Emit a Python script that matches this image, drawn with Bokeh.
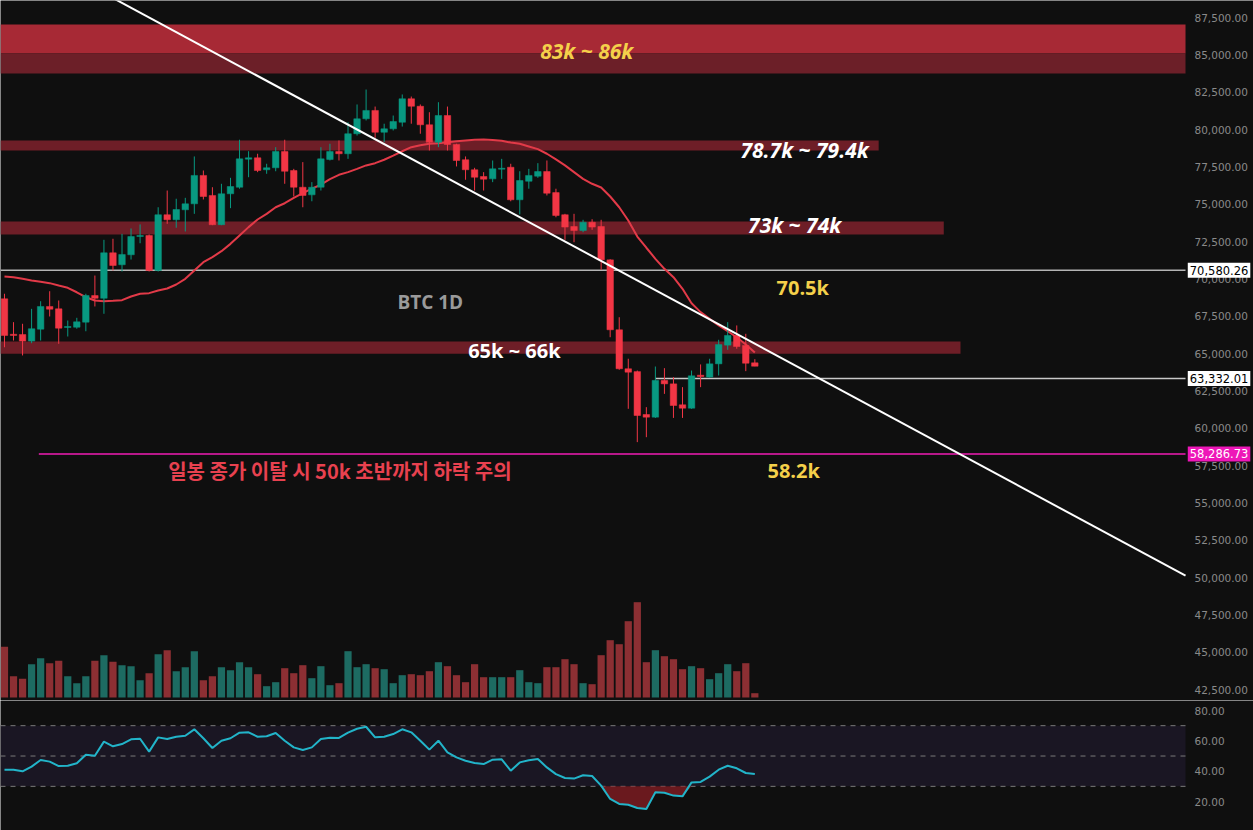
import numpy as np
from bokeh.plotting import figure
from bokeh.models import Range1d, FixedTicker, NumeralTickFormatter, Label, BoxAnnotation
from bokeh.layouts import column
from bokeh.core.properties import value
from bokeh.embed import file_html
from bokeh.resources import INLINE

# ---------------- data ----------------
opens = [68670, 66300, 66280, 65840, 66640, 68160, 68000, 66750, 66770, 67110,
         68890, 68710, 71750, 70950, 71620, 72840, 72910, 70570, 74300, 73960,
         74630, 75030, 76930, 75590, 73630, 75700, 76140, 78020, 78110, 77310,
         77440, 78530, 77260, 76140, 75630, 76140, 78000, 78530, 78380, 79720,
         80720, 81280, 79820, 80050, 80490, 82060, 81560, 80320, 79150, 80940,
         79000, 77980, 77310, 76860, 76700, 77350, 77480, 75300, 76540, 76880,
         77190, 75780, 74300, 73510, 73240, 73800, 73510, 71280, 66600, 63990,
         63800, 60930, 60750, 63210, 62980, 61580, 61350, 63560, 63430, 64320,
         65570, 66220, 65550, 64390]
highs = [69010, 67110, 67000, 68000, 68510, 69180, 68560, 67220, 67400, 69010,
         70230, 72620, 72690, 73020, 73380, 73650, 72980, 74800, 75920, 75370,
         75430, 78200, 77260, 76140, 76370, 76770, 79320, 78550, 78380, 77710,
         78820, 79320, 77370, 77820, 76480, 78820, 79050, 79270, 80490, 81680,
         82680, 81540, 80390, 80940, 82350, 82210, 81680, 81160, 81830, 81540,
         79050, 78200, 77440, 77150, 77930, 78040, 77710, 77210, 77370, 77750,
         77930, 76040, 74360, 74360, 73960, 74000, 73960, 71320, 67440, 64660,
         63870, 61420, 64140, 64030, 63430, 62760, 63870, 64280, 64660, 65930,
         67110, 66890, 66330, 64630]
lows = [65430, 65880, 64880, 65700, 65880, 67490, 65660, 66150, 66670, 66500,
        68160, 67670, 70570, 70500, 71300, 72390, 70500, 70500, 73690, 73430,
        73180, 74360, 75320, 73600, 73600, 74740, 76040, 76810, 77150, 77040,
        77210, 76370, 75520, 74800, 75200, 75920, 77930, 77930, 78040, 79600,
        80610, 79450, 79150, 79940, 80200, 80390, 79720, 78600, 78820, 78600,
        77530, 76640, 75920, 75920, 76480, 76700, 75200, 74320, 76040, 76770,
        75590, 74130, 72620, 72460, 73130, 73290, 70610, 66100, 63920, 61310,
        59080, 59410, 60700, 62310, 60700, 60700, 61310, 62760, 63390, 63540,
        65260, 65330, 63830, 64160]
closes = [66220, 66220, 65840, 66670, 68160, 67980, 66710, 66820, 67130, 68890,
          68710, 71750, 70900, 71640, 72840, 72910, 70570, 74300, 73960, 74650,
          75030, 76930, 75520, 73630, 75700, 76190, 78040, 78110, 77260, 77440,
          78530, 77210, 76140, 75590, 76140, 78040, 78530, 78380, 79720, 80720,
          81280, 79820, 80050, 80540, 82060, 81560, 80320, 79150, 80940, 79000,
          77930, 77310, 76810, 76680, 77370, 77410, 75300, 76590, 76930, 77190,
          75740, 74250, 73470, 73240, 73800, 73470, 71280, 66600, 63990, 63760,
          60860, 60750, 63210, 62980, 61530, 61350, 63520, 63470, 64320, 65610,
          66220, 65480, 64360, 64160]
volumes = [50.7, 21.3, 18.7, 33.3, 39.3, 34.3, 36.7, 21.3, 14.3, 21.3,
           36.7, 42.3, 35.7, 32.3, 31.3, 17.3, 24.3, 43.3, 47.3, 26.3,
           30.3, 46.3, 17.3, 21.3, 30.3, 27.3, 35.3, 30.3, 23.3, 11.3,
           15.3, 29.3, 24.3, 32.3, 19.3, 31.3, 12.3, 14.3, 46.3, 30.3,
           33.3, 29.3, 28.3, 14.3, 22.3, 23.3, 22.3, 26.3, 35.3, 31.3,
           22.3, 15.3, 33.3, 20.3, 20.3, 20.3, 20.3, 27.3, 15.3, 14.3,
           30.3, 30.3, 38.3, 33.3, 14.3, 13.3, 42.3, 57.3, 53.3, 76.3,
           95.3, 35.3, 47.3, 41.3, 38.3, 28.3, 31.3, 29.3, 18.3, 24.3,
           33.3, 26.3, 34.3, 4.3]
ma = [70170, 70120, 70010, 69900, 69810, 69720, 69560, 69410, 69110, 68780,
      68560, 68510, 68540, 68580, 68830, 69010, 69050, 69230, 69360, 69630,
      70010, 70570, 71120, 71460, 71860, 72350, 72910, 73470, 73980, 74360,
      74800, 75070, 75430, 75740, 76040, 76320, 76680, 76970, 77150, 77370,
      77600, 77750, 77980, 78260, 78550, 78820, 78950, 79050, 79090, 79150,
      79220, 79270, 79320, 79340, 79300, 79250, 79130, 79050, 78870, 78690,
      78380, 78000, 77600, 77150, 76700, 76370, 76120, 75520, 74800, 73910,
      72840, 72090, 71350, 70680, 70120, 69340, 68380, 67780, 67330, 66890,
      66500, 66100, 65610, 65080]
rsi = [41.0, 41.0, 39.9, 43.0, 47.4, 46.3, 43.4, 43.6, 45.2, 50.9,
       50.2, 59.5, 56.4, 57.9, 61.0, 61.4, 52.9, 62.3, 61.2, 62.7,
       63.4, 67.6, 61.7, 55.3, 60.1, 61.7, 65.4, 65.6, 62.7, 63.0,
       65.2, 60.1, 55.7, 54.0, 55.7, 61.2, 62.1, 61.9, 65.4, 68.0,
       69.3, 62.3, 62.7, 64.5, 67.6, 65.6, 60.1, 54.2, 60.1, 52.4,
       49.1, 46.9, 45.4, 44.7, 47.6, 47.8, 40.3, 45.8, 47.2, 48.0,
       42.5, 38.1, 35.5, 35.1, 37.3, 36.8, 30.5, 21.7, 18.4, 17.9,
       15.7, 15.1, 26.1, 25.8, 23.9, 23.4, 32.6, 32.9, 36.4, 41.0,
       43.6, 41.9, 38.8, 38.1]

# resistance / support zones (price bands)
zone_bottom = [85090, 83750, 78600, 72980, 64990]
zone_top = [87030, 85090, 79270, 73850, 65820]
zone_end = [130.64, 130.64, 96.7, 103.9, 105.75]
zone_colors = ["#a72935", "#6c1f28", "#6e1e27", "#6e1e27", "#6e1e27"]

level_main = 70580.26
level_support = 63332.01
level_break = 58286.73
trend_x = [10, 130.64]
trend_y = [89455, 50140]

price_ticks = list(range(42500, 87501, 2500))
rsi_ticks = [0, 20, 40, 60, 80]
rsi_levels = [70, 50, 30]

X0, X_EDGE, X1 = -0.44, 130.64, 138.16   # chart start, price-scale edge, canvas edge

BG = "#0f0f0f"
UP = "#089981"
DOWN = "#f23645"
idx = np.arange(len(opens))
o = np.array(opens); c = np.array(closes)
up = c >= o
candle_colors = [UP if u else DOWN for u in up]
vol_colors = ["#1d6b62" if u else "#8c2f33" for u in up]


def style_axis(a, ticks, fmt):
    a.ticker = FixedTicker(ticks=ticks)
    a.formatter = NumeralTickFormatter(format=fmt)
    a.major_label_text_color = "#8a8a8a"
    a.major_label_text_font = "DejaVu Sans"
    a.major_label_text_font_size = "10.5px"
    a.axis_line_color = None
    a.major_tick_line_color = None
    a.minor_tick_line_color = None
    a.major_tick_out = 0
    a.major_tick_in = 0
    a.major_label_standoff = -59


# ---------------- price pane ----------------
p = figure(frame_width=1253, frame_height=700, x_range=Range1d(X0, X1),
           y_range=Range1d(41787, 88638), y_axis_location="right", x_axis_location=None,
           output_backend="svg", toolbar_location=None, background_fill_color=BG,
           border_fill_color=BG, outline_line_color=None,
           min_border_left=0, min_border_top=0, min_border_bottom=0, min_border_right=0)
p.grid.visible = False
p.extra_y_ranges = {"vol": Range1d(-3, 697)}
style_axis(p.yaxis[0], price_ticks, "0,0.00")

# zones
p.quad(left=X0, right=zone_end, bottom=zone_bottom, top=zone_top,
       fill_color=zone_colors, line_color=None)

# volume
p.vbar(x=idx, top=volumes, bottom=0, width=0.8, fill_color=vol_colors, line_color=None,
       y_range_name="vol")

# level lines
p.segment(x0=X0, x1=X_EDGE, y0=level_main, y1=level_main, line_color="#b4b4b4", line_width=1.5)
p.segment(x0=72, x1=X_EDGE, y0=level_support, y1=level_support, line_color="#c8c8c8", line_width=1.5)
p.segment(x0=3.8, x1=X_EDGE, y0=level_break, y1=level_break, line_color="#f01cb4", line_width=1.6)

# MA
p.line(idx, ma, line_color="#e23a48", line_width=2)

# candles
p.segment(x0=idx, x1=idx, y0=lows, y1=highs, line_color=candle_colors, line_width=1)
p.vbar(x=idx, width=0.72, top=np.maximum(o, c), bottom=np.minimum(o, c),
       fill_color=candle_colors, line_color=candle_colors, line_width=0.5)

# trend line
p.line(trend_x, trend_y, line_color="white", line_width=2)

# texts
def txt(x, y, s, color, size, style, font="Open Sans"):
    p.text(x=[x], y=[y], text=[s], text_color=color, text_font=value(font),
           text_font_size=size, text_font_style=style, text_align="center",
           text_baseline="middle")

YEL = "#f4d04a"
txt(64.4, 85290, "83k ~ 86k", YEL, "21px", "bold italic")
txt(88.5, 78660, "78.7k ~ 79.4k", "white", "21px", "bold italic")
txt(87.4, 73580, "73k ~ 74k", "white", "21px", "bold italic")
txt(88.3, 69430, "70.5k", YEL, "20px", "bold")
txt(47.1, 68490, "BTC 1D", "#9a9a9a", "19px", "bold")
txt(56.4, 65210, "65k ~ 66k", "white", "20px", "bold")
txt(87.3, 57180, "58.2k", YEL, "20px", "bold")
txt(37.1, 57180, "일봉 종가 이탈 시 50k 초반까지 하락 주의", "#e8414f", "20px", "bold",
    font="Noto Sans CJK KR")

# price tags on the price scale
for lvl, bg, fg in [(level_main, "white", "black"), (level_support, "white", "black"),
                    (level_break, "#ee17b8", "white")]:
    p.add_layout(Label(x=X_EDGE + 0.25, y=lvl, text=f"{lvl:,.2f}",
                       text_align="left", text_baseline="middle", text_color=fg,
                       text_font="DejaVu Sans", text_font_size="11.5px",
                       background_fill_color=bg, padding=(2, 3), level="overlay"))

# ---------------- RSI pane ----------------
r = figure(frame_width=1253, frame_height=130, x_range=p.x_range,
           y_range=Range1d(0.9, 86.6), y_axis_location="right", x_axis_location=None,
           output_backend="svg", toolbar_location=None, background_fill_color=BG,
           border_fill_color=BG, outline_line_color=None,
           min_border_left=0, min_border_top=0, min_border_bottom=0, min_border_right=0)
r.grid.visible = False
style_axis(r.yaxis[0], rsi_ticks, "0.00")

r.add_layout(BoxAnnotation(left=X0, right=X_EDGE, bottom=30, top=70, fill_color="#1a1623",
                           fill_alpha=1, line_color=None, level="underlay"))
r.segment(x0=X0, x1=X_EDGE, y0=rsi_levels, y1=rsi_levels, line_color="#7a7a7a",
          line_width=1, line_dash="5 5")
rsi_arr = np.array(rsi)
r.varea(x=idx, y1=np.minimum(rsi_arr, 30), y2=30, fill_color="#8a1d24", fill_alpha=0.75)
r.line(idx, rsi, line_color="#22b4c9", line_width=2)

layout = column(p, r, spacing=0)
open("out.html", "w").write(file_html(layout, INLINE))
